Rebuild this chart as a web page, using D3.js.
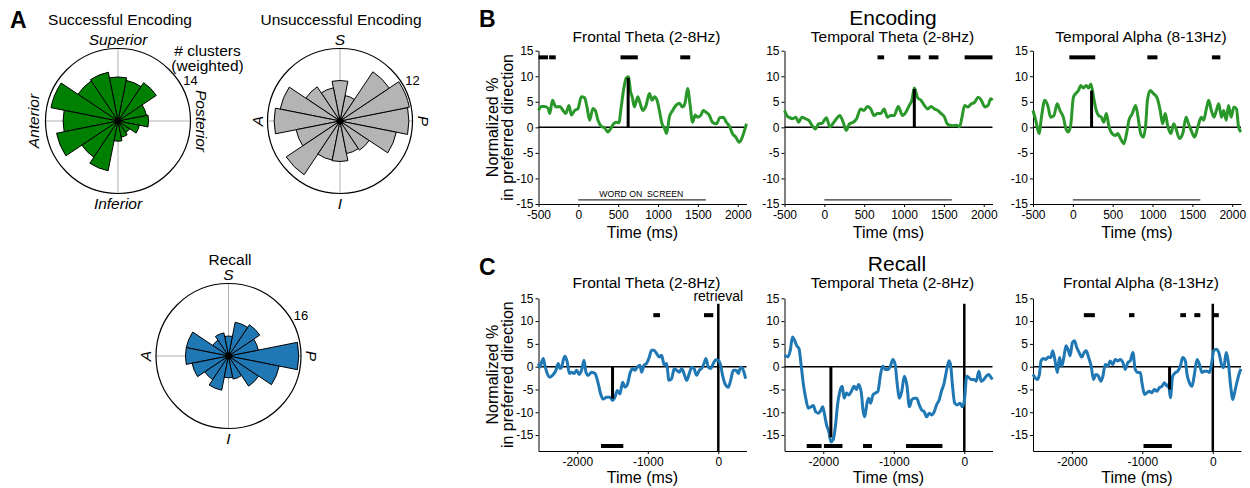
<!DOCTYPE html>
<html>
<head>
<meta charset="utf-8">
<script src="https://cdn.jsdelivr.net/npm/d3@7"></script>
<style>
  body { margin: 0; background: #fff; }
  text { font-family: "Liberation Sans", Arial, Helvetica, sans-serif; fill: #000; }
</style>
</head>
<body>
<script>
/* data: rose histograms (16 bins, angle in degrees, counter-clockwise from posterior) */
var roseBins = [0, 22.5, 45, 67.5, 90, 112.5, 135, 157.5, 180, 202.5, 225, 247.5, 270, 292.5, 315, 337.5]
var successfulCounts = [5.9, 5.6, 8.9, 8.0, 8.5, 9.6, 9.3, 13.2, 10.6, 12.1, 8.4, 9.8, 3.9, 3.2, 2.7, 4.2]
var unsuccessfulCounts = [11.4, 11.7, 9.8, 4.3, 6.7, 5.6, 6.8, 10.1, 10.9, 7.4, 10.7, 6.6, 6.7, 5.5, 5.8, 9.5]
var recallCounts = [15.5, 6.7, 8.3, 7.6, 4.4, 5.2, 4.2, 9.5, 9.5, 8.2, 6.3, 7.7, 4.8, 5.2, 8.0, 11.4]
var roseMax = [14, 12, 16]

/* data: encoding traces [time ms, normalized %] */
var encFrontalTheta = [[-500,3.3],[-462,4.1],[-421,4.1],[-379,3.7],[-358,2.7],[-325,5.3],[-283,4.0],[-233,4.1],[-192,3.3],[-158,2.7],[-117,4.3],[-88,2.4],[-46,3.3],[-4,3.7],[38,6.0],[79,5.8],[108,4.0],[142,1.4],[183,3.7],[213,3.3],[246,1.4],[288,0.2],[329,-0.1],[371,-0.9],[404,-0.3],[442,0.7],[475,1.0],[508,0.9],[538,4.0],[567,7.3],[600,9.6],[630,9.9],[655,7.0],[675,6.0],[704,4.0],[746,6.0],[775,4.7],[808,3.3],[850,4.3],[892,6.6],[925,5.3],[954,6.0],[988,5.3],[1017,3.3],[1050,0.7],[1079,-0.1],[1108,-1.2],[1142,2.0],[1183,3.3],[1225,4.3],[1267,4.7],[1308,4.0],[1338,4.7],[1371,7.6],[1400,4.7],[1433,1.0],[1467,2.4],[1496,2.0],[1538,2.4],[1567,3.3],[1600,3.0],[1642,2.4],[1683,1.0],[1733,0.7],[1775,1.9],[1817,2.0],[1858,1.0],[1900,0.1],[1933,-1.2],[1975,-1.9],[2017,-2.9],[2050,-2.2],[2079,-0.9],[2110,0.7]]
var encTemporalTheta = [[-500,3.3],[-470,2.3],[-437,1.9],[-395,1.7],[-357,2.0],[-323,1.0],[-281,2.0],[-239,1.7],[-197,1.4],[-155,0.4],[-113,-0.3],[-71,0.7],[-29,0.8],[26,1.9],[68,0.1],[110,0.8],[152,1.7],[194,2.3],[237,1.0],[274,-0.6],[316,0.7],[363,1.0],[405,1.7],[455,3.6],[497,3.3],[540,4.1],[582,3.6],[624,2.3],[666,2.7],[708,2.7],[750,3.6],[792,2.0],[834,2.3],[876,2.3],[927,4.1],[982,2.3],[1024,3.0],[1066,4.3],[1099,5.3],[1129,7.7],[1171,5.8],[1213,5.3],[1255,4.3],[1297,3.6],[1339,4.1],[1381,3.6],[1423,3.3],[1465,2.7],[1508,2.0],[1541,0.7],[1571,0.4],[1613,0.3],[1655,0.4],[1697,0.1],[1731,2.3],[1760,4.3],[1802,4.0],[1844,4.6],[1886,4.9],[1928,5.9],[1970,5.3],[2013,4.0],[2054,4.3],[2088,5.6],[2110,5.3]]
var encTemporalAlpha = [[-500,3.3],[-466,1.4],[-424,-1.2],[-394,2.0],[-352,5.3],[-310,4.0],[-280,2.0],[-238,2.3],[-196,4.6],[-162,3.3],[-120,2.0],[-86,-0.3],[-57,-0.9],[-27,0.4],[7,5.9],[36,6.6],[70,7.2],[100,8.2],[133,7.7],[167,8.2],[197,7.7],[226,8.5],[260,5.9],[294,3.3],[324,2.3],[357,2.0],[387,1.0],[421,2.7],[450,0.4],[492,-1.2],[535,-1.6],[564,-1.2],[598,-2.2],[640,-3.2],[674,-1.2],[704,1.4],[746,2.7],[788,4.3],[818,2.0],[851,-1.2],[885,-1.9],[915,0.7],[936,5.3],[970,7.2],[1012,6.6],[1054,5.9],[1096,3.3],[1126,0.7],[1160,2.7],[1189,0.4],[1231,-1.2],[1265,0.7],[1295,-0.3],[1337,-2.2],[1379,-1.2],[1421,2.0],[1451,0.7],[1485,-0.6],[1527,-1.9],[1569,0.1],[1611,2.0],[1641,1.4],[1675,3.6],[1704,5.3],[1738,3.3],[1772,2.0],[1801,3.3],[1831,4.6],[1865,2.0],[1894,3.3],[1924,1.4],[1953,4.3],[1987,2.0],[2021,4.0],[2054,3.6],[2079,0.1],[2110,-0.9]]

/* data: recall traces [time ms relative to retrieval, normalized %] */
var recFrontalTheta = [[-2550,0.7],[-2530,-0.1],[-2506,1.0],[-2482,1.8],[-2459,0.3],[-2426,-1.5],[-2388,-2.3],[-2350,-1.9],[-2303,-0.8],[-2270,0.7],[-2246,-0.4],[-2222,-0.1],[-2199,1.4],[-2175,2.3],[-2142,1.0],[-2113,-1.5],[-2080,-1.2],[-2047,-1.5],[-2009,-0.8],[-1972,-1.7],[-1939,-0.8],[-1905,1.4],[-1877,-1.2],[-1844,-1.9],[-1797,-1.2],[-1749,-1.5],[-1702,-3.75],[-1669,-6.0],[-1631,-7.1],[-1584,-6.7],[-1537,-6.7],[-1499,-7.4],[-1466,-6.7],[-1433,-5.2],[-1395,-6.0],[-1357,-3.4],[-1324,-4.5],[-1286,-3.75],[-1253,-1.5],[-1215,-0.4],[-1182,-0.8],[-1149,-0.1],[-1111,0.3],[-1087,-1.2],[-1054,0.3],[-1017,0.7],[-979,2.1],[-946,3.6],[-913,3.6],[-875,2.9],[-837,2.1],[-804,2.5],[-766,0.3],[-733,0.7],[-700,-3.0],[-662,-2.6],[-624,-0.4],[-591,-0.8],[-553,-1.2],[-520,-0.4],[-487,-1.5],[-449,-3.0],[-411,-1.5],[-378,-0.1],[-345,-0.4],[-307,-1.9],[-270,-0.8],[-236,-0.4],[-203,0.7],[-175,1.8],[-142,-0.1],[-109,-0.4],[-71,0.7],[-33,1.5],[0,1.4],[33,0.3],[61,-1.9],[95,-3.75],[142,-4.5],[175,-3.0],[213,-0.8],[251,-0.8],[284,-1.5],[317,-0.1],[355,-0.8],[388,-2.6]]
var recTemporalTheta = [[-2550,2.4],[-2502,2.2],[-2469,3.5],[-2437,6.5],[-2408,5.8],[-2376,4.6],[-2343,3.9],[-2315,0.5],[-2282,-3.9],[-2249,-6.9],[-2211,-9.1],[-2174,-8.8],[-2141,-8.5],[-2108,-9.9],[-2070,-10.2],[-2038,-9.7],[-2009,-8.8],[-1986,-10.2],[-1953,-12.8],[-1920,-14.3],[-1892,-16.5],[-1859,-16.0],[-1826,-12.8],[-1798,-8.4],[-1765,-5.4],[-1732,-4.3],[-1704,-6.9],[-1671,-5.8],[-1638,-6.2],[-1601,-5.4],[-1563,-4.3],[-1531,-5.0],[-1498,-3.9],[-1460,-5.8],[-1437,-9.5],[-1413,-11.0],[-1380,-8.0],[-1357,-6.9],[-1329,-8.0],[-1296,-6.2],[-1263,-5.8],[-1225,-5.4],[-1188,-1.7],[-1155,0.15],[-1122,-0.6],[-1085,-0.6],[-1047,0.15],[-1014,1.6],[-981,0.5],[-953,-3.6],[-920,-6.9],[-887,-5.4],[-850,-2.1],[-812,-4.3],[-779,-8.8],[-746,-7.3],[-709,-6.9],[-676,-6.9],[-638,-8.4],[-606,-9.5],[-568,-9.9],[-535,-11.0],[-498,-10.2],[-465,-10.6],[-427,-9.9],[-394,-8.4],[-357,-7.3],[-324,-5.4],[-286,-3.6],[-254,-1.0],[-216,1.3],[-192,0.15],[-169,-3.9],[-136,-8.0],[-99,-8.4],[-61,-8.0],[-28,-8.8],[5,-6.9],[33,-2.1],[66,-2.4],[99,-2.8],[136,-2.8],[169,-3.2],[207,-1.0],[239,-3.2],[277,-2.8],[310,-2.1],[347,-1.7],[380,-2.4],[400,-2.8]]
var recFrontalAlpha = [[-2550,-1.7],[-2488,-2.8],[-2460,-1.7],[-2436,1.25],[-2403,1.8],[-2370,1.6],[-2332,2.1],[-2299,2.0],[-2270,3.5],[-2237,1.25],[-2204,-1.3],[-2175,2.0],[-2142,0.15],[-2109,2.35],[-2081,4.6],[-2047,3.5],[-2024,2.35],[-1991,5.3],[-1962,5.7],[-1929,4.2],[-1896,3.1],[-1858,2.1],[-1825,3.1],[-1796,3.5],[-1763,2.1],[-1725,0.15],[-1692,-2.8],[-1659,-1.7],[-1621,-2.1],[-1588,-3.2],[-1559,-2.1],[-1526,0.5],[-1488,0.15],[-1455,1.25],[-1417,0.5],[-1384,1.6],[-1346,1.25],[-1313,1.6],[-1275,0.9],[-1242,-0.6],[-1204,0.9],[-1171,1.25],[-1133,3.1],[-1100,-0.6],[-1062,-1.3],[-1028,-1.3],[-1005,-3.5],[-967,-6.1],[-934,-5.7],[-900,-5.4],[-863,-5.7],[-829,-5.0],[-791,-5.4],[-758,-4.6],[-720,-4.3],[-687,-3.5],[-649,-4.3],[-626,-3.9],[-602,-6.8],[-569,-2.1],[-531,-1.3],[-498,-1.0],[-460,0.15],[-427,2.0],[-389,1.25],[-365,-1.7],[-332,-3.5],[-294,-4.3],[-261,-1.7],[-223,1.6],[-190,0.5],[-152,-1.3],[-118,-1.0],[-81,-1.0],[-47,-1.3],[-19,0.5],[14,3.5],[47,3.8],[85,3.1],[123,0.5],[156,-0.2],[190,3.1],[218,1.25],[251,-3.9],[284,-7.2],[313,-5.4],[346,-3.2],[379,-1.3],[400,-0.5]]

/* significant windows [start, end] ms */
var encSig = [
    [[-500,-380],[-367,-284],[529,746],[1279,1404]],
    [[667,750],[1053,1205],[1311,1432],[1760,2110]],
    [[-44,281],[935,1062],[1745,1851]]
]
var recSigTop = [
    [[-922,-827],[-203,-71]],
    [],
    [[-1829,-1672],[-1188,-1111],[-461,-380],[-262,-177],[4,85]]
]
var recSigBottom = [
    [[-1664,-1347]],
    [[-2235,-2024],[-1991,-1728],[-1437,-1310],[-827,-310]],
    [[-983,-580]]
]
/* peak markers [time, value] */
var encPeaks = [[625,9.7],[1129,7.5],[235,7.2]]
var recPeaks = [[-1500,-7.0],[-1892,-15.5],[-613,-5.0]]

var encTitles = ['Frontal Theta (2-8Hz)', 'Temporal Theta (2-8Hz)', 'Temporal Alpha (8-13Hz)']
var recTitles = ['Frontal Theta (2-8Hz)', 'Temporal Theta (2-8Hz)', 'Frontal Alpha (8-13Hz)']
var encXTicks = [-500, 0, 500, 1000, 1500, 2000]
var recXTicks = [-2000, -1000, 0]
var yTicks = [-15, -10, -5, 0, 5, 10, 15]

/* setup */
var width = 1250
var height = 488
var svg = d3.select('body').append('svg')
    .attr('width', width)
    .attr('height', height)

var GREEN_LINE = '#2a972a'
var BLUE = '#1f77b4'
var colLeft = [538.5, 784.5, 1033]
var plotW = 208

function text(g, s, x, y, size, opts) {
    opts = opts || {}
    var t = g.append('text')
        .attr('x', x).attr('y', y)
        .attr('font-size', size)
        .attr('text-anchor', opts.anchor || 'middle')
        .text(s)
    if (opts.bold) t.attr('font-weight', 'bold')
    if (opts.italic) t.attr('font-style', 'italic')
    if (opts.rotate) t.attr('transform', 'rotate(' + opts.rotate + ',' + x + ',' + y + ')')
    if (opts.middle) t.attr('dominant-baseline', 'central')
    return t
}

/* panel letters */
text(svg, 'A', 10, 28, 23, { anchor: 'start', bold: true })
text(svg, 'B', 479, 27, 23, { anchor: 'start', bold: true })
text(svg, 'C', 479, 275, 23, { anchor: 'start', bold: true })

/* rose plots */
var R = 72.5
var deg = Math.PI / 180
var binW = 22.5

function rose(cx, cy, counts, rmax, fill, names, longNames) {
    var g = svg.append('g').attr('transform', 'translate(' + [cx, cy] + ')')
    var r = d3.scaleLinear().domain([0, rmax]).range([0, R])

    g.append('line').attr('x1', -R).attr('x2', R).attr('y1', 0).attr('y2', 0)
        .attr('stroke', '#b0b0b0').attr('stroke-width', 1)
    g.append('line').attr('x1', 0).attr('x2', 0).attr('y1', -R).attr('y2', R)
        .attr('stroke', '#b0b0b0').attr('stroke-width', 1)

    var arc = d3.arc()
        .innerRadius(0)
        .outerRadius(function(d) { return r(d.v) })
        .startAngle(function(d) { return Math.PI / 2 - (d.a + binW / 2) * deg })
        .endAngle(function(d) { return Math.PI / 2 - (d.a - binW / 2) * deg })

    var bins = roseBins.map(function(a, i) { return { a: a, v: counts[i] } })
    g.selectAll('path.bar').data(bins).enter().append('path')
        .attr('class', 'bar')
        .attr('d', arc)
        .attr('fill', fill)
        .attr('stroke', '#000')
        .attr('stroke-width', 1)

    g.append('circle').attr('r', 3.5).attr('fill', '#000')
    g.append('circle').attr('r', R).attr('fill', 'none')
        .attr('stroke', '#000').attr('stroke-width', 1.2)

    var d = 82
    text(g, names[0], 0, -d, 15.5, { italic: true, middle: true })
    text(g, names[1], 0, d, 15.5, { italic: true, middle: true })
    text(g, names[2], longNames ? -85 : -83, 0, 15.5, { italic: true, middle: true, rotate: -90 })
    text(g, names[3], 83, 0, 15.5, { italic: true, middle: true, rotate: 90 })

    // radial max label
    var la = 29 * deg
    text(g, rmax, 83 * Math.cos(la), -83 * Math.sin(la), 13, { middle: true })
    return g
}

rose(118, 121, successfulCounts, roseMax[0], '#008000',
    ['Superior', 'Inferior', 'Anterior', 'Posterior'], true)
rose(340, 121, unsuccessfulCounts, roseMax[1], '#b4b4b4', ['S', 'I', 'A', 'P'])
rose(228.5, 356, recallCounts, roseMax[2], BLUE, ['S', 'I', 'A', 'P'])

text(svg, 'Successful Encoding', 120, 25, 15.5)
text(svg, 'Unsuccessful Encoding', 341, 25, 15.5)
text(svg, 'Recall', 230, 264.5, 15.5)
text(svg, '# clusters', 207.5, 56, 15.5)
text(svg, '(weighted)', 207.5, 70.5, 15.5)

/* trace plots */
function tracePlot(o) {
    var g = svg.append('g')
    var x = d3.scaleLinear().domain(o.xDomain).range([o.left, o.left + plotW])
    var y = d3.scaleLinear().domain(o.yDomain).range([o.bottom, o.top])

    var yAxis = g.append('g')
        .attr('transform', 'translate(' + o.left + ',0)')
        .call(d3.axisLeft(y).tickValues(yTicks).tickSize(3).tickSizeOuter(0).tickPadding(2))
    var xAxis = g.append('g')
        .attr('transform', 'translate(0,' + o.bottom + ')')
        .call(d3.axisBottom(x).tickValues(o.xTicks).tickSize(3).tickSizeOuter(0).tickPadding(3))
    ;[xAxis, yAxis].forEach(function(a) {
        a.selectAll('text').attr('font-size', 12)
            .attr('font-family', '"Liberation Sans", Arial, sans-serif').attr('fill', '#000')
        a.selectAll('path, line').attr('stroke', '#000').attr('stroke-width', 1)
    })
    xAxis.selectAll('text').text(function(d) { return d < 0 ? '-' + Math.abs(d) : d })
    yAxis.selectAll('text').text(function(d) { return d < 0 ? '-' + Math.abs(d) : d })

    g.append('line')
        .attr('x1', x(o.xDomain[0])).attr('x2', x(o.xDomain[1]))
        .attr('y1', y(0)).attr('y2', y(0))
        .attr('stroke', '#000').attr('stroke-width', 1.5)

    if (o.extra) o.extra(g, x, y)

    var line = d3.line()
        .x(function(d) { return x(d[0]) })
        .y(function(d) { return y(d[1]) })
        .curve(d3.curveMonotoneX)
    g.append('path').datum(o.data)
        .attr('d', line)
        .attr('fill', 'none')
        .attr('stroke', o.color)
        .attr('stroke-width', 3)
        .attr('stroke-linejoin', 'round')

    g.append('line')
        .attr('x1', x(o.peak[0])).attr('x2', x(o.peak[0]))
        .attr('y1', y(0)).attr('y2', y(o.peak[1]))
        .attr('stroke', '#000').attr('stroke-width', 3)

    o.sig.forEach(function(s) {
        g.selectAll(null).data(s.bars).enter().append('line')
            .attr('x1', function(d) { return x(d[0]) })
            .attr('x2', function(d) { return x(d[1]) })
            .attr('y1', y(s.y)).attr('y2', y(s.y))
            .attr('stroke', '#000').attr('stroke-width', 4)
    })

    text(g, o.title, o.left + plotW / 2 + 4, o.titleY, 15.5)
    text(g, 'Time (ms)', o.left + plotW / 2, o.xLabelY, 16)
    if (o.yLabel) {
        var cy = (o.top + o.bottom) / 2
        text(g, 'Normalized %', 498, cy, 16, { rotate: -90 })
        text(g, 'in preferred direction', 513.5, cy, 16, { rotate: -90 })
    }
    return g
}

var encData = [encFrontalTheta, encTemporalTheta, encTemporalAlpha]
var recData = [recFrontalTheta, recTemporalTheta, recFrontalAlpha]

encData.forEach(function(data, i) {
    tracePlot({
        left: colLeft[i], top: 50.7, bottom: 204,
        xDomain: [-500, 2110], yDomain: [-15, 15], xTicks: encXTicks,
        data: data, color: GREEN_LINE, peak: encPeaks[i],
        sig: [{ y: 13.7, bars: encSig[i] }],
        title: encTitles[i], titleY: 41.5, xLabelY: 237.5, yLabel: i === 0,
        extra: function(g, x, y) {
            g.append('line')
                .attr('x1', x(0)).attr('x2', x(1600))
                .attr('y1', y(-14.2)).attr('y2', y(-14.2))
                .attr('stroke', '#000').attr('stroke-width', 1)
            if (i === 0) text(g, 'WORD ON  SCREEN', x(790), y(-14.2) - 2.5, 8.7)
                .attr('xml:space', 'preserve').style('white-space', 'pre')
        }
    })
})

recData.forEach(function(data, i) {
    tracePlot({
        left: colLeft[i], top: 298.3, bottom: 451,
        xDomain: [-2550, 400], yDomain: [-18.5, 15], xTicks: recXTicks,
        data: data, color: BLUE, peak: recPeaks[i],
        sig: [{ y: 11.3, bars: recSigTop[i] }, { y: -17.4, bars: recSigBottom[i] }],
        title: recTitles[i], titleY: 287.5, xLabelY: 482.5, yLabel: i === 0,
        extra: function(g, x, y) {
            g.append('line')
                .attr('x1', x(0)).attr('x2', x(0))
                .attr('y1', y(-18.5)).attr('y2', y(13.8))
                .attr('stroke', '#000').attr('stroke-width', 2.5)
            if (i === 0) text(g, 'retrieval', x(0), 301, 14)
        }
    })
})

text(svg, 'Encoding', 893, 25, 21)
text(svg, 'Recall', 897, 271, 21)
</script>
</body>
</html>
